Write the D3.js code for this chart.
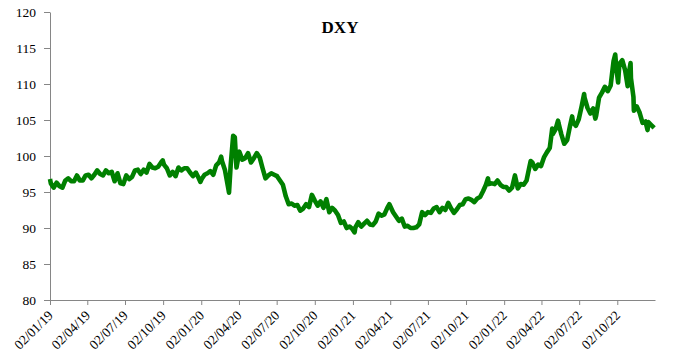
<!DOCTYPE html>
<html>
<head>
<meta charset="utf-8">
<script src="https://cdn.jsdelivr.net/npm/d3@7"></script>
<style>
  html, body { margin: 0; padding: 0; background: #fff; }
  svg { display: block; }
  .axis text { font-family: "Liberation Serif", "Times New Roman", serif; font-size: 13.5px; fill: #000; }
  .axis path, .axis line { stroke: #868686; stroke-width: 1; }
</style>
</head>
<body>
<svg id="chart" width="700" height="359"></svg>
<script>
const title = "DXY";
const tickDates = ["2019-01-02","2019-04-02","2019-07-02","2019-10-02",
  "2020-01-02","2020-04-02","2020-07-02","2020-10-02",
  "2021-01-02","2021-04-02","2021-07-02","2021-10-02",
  "2022-01-02","2022-04-02","2022-07-02","2022-10-02"];
const yTicks = [80, 85, 90, 95, 100, 105, 110, 115, 120];

const dxy2019 = [
  ["2019-01-02",96.8],["2019-01-04",96.2],["2019-01-11",95.6],["2019-01-18",96.3],["2019-01-25",95.8],
  ["2019-02-01",95.6],["2019-02-08",96.6],["2019-02-15",96.9],["2019-02-22",96.5],
  ["2019-03-01",96.5],["2019-03-08",97.3],["2019-03-15",96.6],["2019-03-22",96.6],["2019-03-29",97.3],
  ["2019-04-05",97.4],["2019-04-12",96.9],["2019-04-19",97.4],["2019-04-26",98.0],
  ["2019-05-03",97.5],["2019-05-10",97.3],["2019-05-17",98.0],["2019-05-24",97.6],["2019-05-31",97.8],
  ["2019-06-07",96.5],["2019-06-14",97.6],["2019-06-21",96.2],["2019-06-28",96.1],
  ["2019-07-05",97.3],["2019-07-12",96.8],["2019-07-19",97.1],["2019-07-26",98.0],
  ["2019-08-02",98.1],["2019-08-09",97.5],["2019-08-16",98.1],["2019-08-23",97.7],["2019-08-30",98.9],
  ["2019-09-06",98.4],["2019-09-13",98.3],["2019-09-20",98.5],["2019-09-27",99.1],
  ["2019-10-01",99.4],["2019-10-04",98.8],["2019-10-11",98.3],["2019-10-18",97.3],["2019-10-25",97.8],
  ["2019-11-01",97.2],["2019-11-08",98.4],["2019-11-15",98.0],["2019-11-22",98.3],["2019-11-29",98.3],
  ["2019-12-06",97.7],["2019-12-13",97.2],["2019-12-20",97.7],["2019-12-27",96.9],["2019-12-31",96.4]
];
const dxy2020 = [
  ["2020-01-03",96.8],["2020-01-10",97.4],["2020-01-17",97.6],["2020-01-24",97.9],["2020-01-31",97.4],
  ["2020-02-07",98.7],["2020-02-14",99.1],["2020-02-19",99.9],["2020-02-21",99.3],["2020-02-28",98.1],
  ["2020-03-06",95.9],["2020-03-09",94.9],["2020-03-13",98.7],["2020-03-19",102.8],["2020-03-23",102.6],["2020-03-27",98.4],
  ["2020-04-03",100.6],["2020-04-10",99.5],["2020-04-17",99.7],["2020-04-24",100.4],
  ["2020-05-01",99.1],["2020-05-08",99.7],["2020-05-15",100.4],["2020-05-22",99.8],["2020-05-29",98.3],
  ["2020-06-05",96.9],["2020-06-12",97.3],["2020-06-19",97.6],["2020-06-26",97.4],
  ["2020-07-03",97.2],["2020-07-10",96.6],["2020-07-17",96.0],["2020-07-24",94.4],["2020-07-31",93.3],
  ["2020-08-07",93.4],["2020-08-14",93.1],["2020-08-21",93.2],["2020-08-28",92.4],
  ["2020-09-04",92.7],["2020-09-11",93.3],["2020-09-18",92.9],["2020-09-25",94.6],
  ["2020-10-02",93.8],["2020-10-09",93.1],["2020-10-16",93.7],["2020-10-23",92.8],["2020-10-30",94.0],
  ["2020-11-06",92.2],["2020-11-13",92.8],["2020-11-20",92.4],["2020-11-27",91.8],
  ["2020-12-04",90.7],["2020-12-11",90.9],["2020-12-18",90.0],["2020-12-25",90.2],["2020-12-31",89.9]
];
const dxy2021 = [
  ["2021-01-06",89.4],["2021-01-08",90.1],["2021-01-15",90.8],["2021-01-22",90.2],["2021-01-29",90.6],
  ["2021-02-05",91.0],["2021-02-12",90.5],["2021-02-19",90.4],["2021-02-26",90.9],
  ["2021-03-05",92.0],["2021-03-12",91.7],["2021-03-19",91.9],["2021-03-26",92.8],["2021-03-31",93.3],
  ["2021-04-09",92.2],["2021-04-16",91.6],["2021-04-23",91.0],["2021-04-30",91.3],
  ["2021-05-07",90.2],["2021-05-14",90.3],["2021-05-21",90.0],["2021-05-28",90.0],
  ["2021-06-04",90.1],["2021-06-11",90.5],["2021-06-18",92.2],["2021-06-25",91.8],
  ["2021-07-02",92.2],["2021-07-09",92.1],["2021-07-16",92.7],["2021-07-23",92.9],["2021-07-30",92.2],
  ["2021-08-06",92.8],["2021-08-13",92.5],["2021-08-20",93.5],["2021-08-27",92.7],
  ["2021-09-03",92.1],["2021-09-10",92.6],["2021-09-17",93.2],["2021-09-24",93.3],
  ["2021-10-01",94.0],["2021-10-08",94.1],["2021-10-15",93.9],["2021-10-22",93.6],["2021-10-29",94.1],
  ["2021-11-05",94.3],["2021-11-12",95.1],["2021-11-19",96.0],["2021-11-24",96.9],["2021-11-26",96.1],
  ["2021-12-03",96.2],["2021-12-10",96.1],["2021-12-17",96.6],["2021-12-24",96.0],["2021-12-31",95.7]
];
const dxy2022 = [
  ["2022-01-07",95.7],["2022-01-14",95.2],["2022-01-21",95.6],["2022-01-28",97.3],
  ["2022-02-04",95.5],["2022-02-11",96.1],["2022-02-18",96.0],["2022-02-25",96.6],
  ["2022-03-04",98.5],["2022-03-07",99.3],["2022-03-11",99.1],["2022-03-18",98.2],["2022-03-25",98.8],
  ["2022-04-01",98.6],["2022-04-08",99.8],["2022-04-15",100.5],["2022-04-22",101.1],["2022-04-28",103.8],["2022-04-29",103.0],
  ["2022-05-06",103.7],["2022-05-12",104.9],["2022-05-13",104.6],["2022-05-20",103.0],["2022-05-27",101.7],
  ["2022-06-03",102.2],["2022-06-10",104.2],["2022-06-15",105.5],["2022-06-17",104.7],["2022-06-24",104.2],
  ["2022-07-01",105.1],["2022-07-08",106.9],["2022-07-14",108.6],["2022-07-15",108.1],["2022-07-22",106.7],["2022-07-29",105.9],
  ["2022-08-05",106.6],["2022-08-10",105.2],["2022-08-12",105.6],["2022-08-19",108.1],["2022-08-26",108.8],
  ["2022-09-02",109.6],["2022-09-09",109.0],["2022-09-16",109.8],["2022-09-23",113.2],["2022-09-27",114.1],["2022-09-30",112.1],
  ["2022-10-04",110.2],["2022-10-07",112.8],["2022-10-14",113.3],["2022-10-21",111.9],["2022-10-27",109.7],["2022-10-28",110.8],
  ["2022-11-03",112.9],["2022-11-04",110.8],["2022-11-10",108.2],["2022-11-11",106.3],["2022-11-18",106.9],["2022-11-25",106.0],
  ["2022-12-02",104.6],["2022-12-09",104.8],["2022-12-14",103.6],["2022-12-16",104.7],["2022-12-23",104.3],["2022-12-30",103.9]
];

const parse = d3.timeParse("%Y-%m-%d");
const data = [].concat(dxy2019, dxy2020, dxy2021, dxy2022).map(d => ({date: parse(d[0]), value: d[1]}));

const svg = d3.select("#chart");
const x = d3.scaleTime()
  .domain([parse("2019-01-02"), parse("2023-01-01")])
  .range([50, 655]);
const y = d3.scaleLinear().domain([80, 120]).range([300, 12]);

// Y axis
svg.append("g").attr("class", "axis")
  .attr("transform", "translate(50,0)")
  .call(d3.axisLeft(y).tickValues(yTicks).tickSize(6).tickSizeOuter(0).tickPadding(8));

// X axis
const xAxis = svg.append("g").attr("class", "axis")
  .attr("transform", "translate(0,300)")
  .call(d3.axisBottom(x).tickValues(tickDates.map(parse)).tickSize(5).tickSizeOuter(0)
    .tickFormat(d3.timeFormat("%d/%m/%y")));
xAxis.selectAll("text")
  .attr("text-anchor", "end")
  .attr("dy", null)
  .attr("y", null)
  .attr("transform", "translate(1,14) rotate(-45)")
  .attr("dominant-baseline", "middle");

// Line
const line = d3.line().x(d => x(d.date)).y(d => y(d.value));
svg.append("path")
  .datum(data)
  .attr("fill", "none")
  .attr("stroke", "#008000")
  .attr("stroke-width", 4.6)
  .attr("stroke-linejoin", "round")
  .attr("d", line);

// Title
svg.append("text")
  .attr("x", 340).attr("y", 33)
  .attr("text-anchor", "middle")
  .attr("font-family", "'Liberation Serif', 'Times New Roman', serif")
  .attr("font-weight", "bold")
  .attr("font-size", 17)
  .text(title);
</script>
</body>
</html>
